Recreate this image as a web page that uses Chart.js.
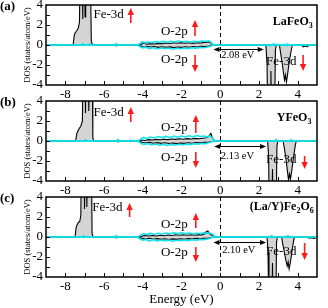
<!DOCTYPE html>
<html>
<head>
<meta charset="utf-8">
<script src="https://cdn.jsdelivr.net/npm/chart.js@4.4.1/dist/chart.umd.min.js"></script>
<style>
  html, body { margin: 0; padding: 0; background: #fff; }
  #wrap { position: relative; width: 328px; height: 308px; overflow: hidden; }
  .panel { position: absolute; left: 0; width: 328px; }
</style>
</head>
<body>
<div id="wrap">
  <div class="panel" style="top:0;height:105px"><canvas id="pa"></canvas></div>
  <div class="panel" style="top:96px;height:105px"><canvas id="pb"></canvas></div>
  <div class="panel" style="top:192px;height:116px"><canvas id="pc"></canvas></div>
</div>
<script>
// axis ticks
const xTicks = [-8, -6, -4, -2, 0, 2, 4];
const yTicks = [-4, -2, 0, 2, 4];

// panel text
const panelNames = ['(a)', '(b)', '(c)'];
const compounds = [
  [['LaFeO', 0], ['3', 1]],
  [['YFeO', 0], ['3', 1]],
  [['(La/Y)Fe', 0], ['2', 1], ['O', 0], ['6', 1]]
];
const gapLabels = ['2.08 eV', '2.13 eV', '2.10 eV'];

// (a) LaFeO3 : [energy eV, DOS]
const totUpA = [[-9,0],[-7.6,0],[-7.53,1.1],[-7.42,1.4],[-7.33,1.7],[-7.27,2.3],[-7.23,9],[-7.13,9],[-7.1,2.6],[-7.07,9],[-7.01,9],[-6.98,2.8],[-6.95,9],[-6.72,9],[-6.66,0.4],[-6.6,0],
  [-5.45,0],[-5.37,0.1],[-5.3,0],
  [-4.25,0],[-4.1,0.06],[-3.95,0.2],[-3.8,0.08],[-3.6,0.14],[-3.4,0.1],[-3.2,0.16],[-3.0,0.12],[-2.8,0.2],[-2.6,0.15],[-2.4,0.22],[-2.2,0.17],[-2.0,0.24],[-1.8,0.18],[-1.6,0.22],[-1.4,0.16],[-1.2,0.22],[-1.0,0.2],[-0.8,0.26],[-0.62,0.3],[-0.5,0.22],[-0.42,0.05],[-0.36,0],
  [5,0]];
const totDnA = [[-9,0],
  [-4.25,0],[-4.1,-0.1],[-3.95,-0.22],[-3.8,-0.12],[-3.6,-0.2],[-3.4,-0.15],[-3.2,-0.24],[-3.0,-0.17],[-2.8,-0.23],[-2.6,-0.19],[-2.4,-0.26],[-2.2,-0.2],[-2.0,-0.24],[-1.8,-0.18],[-1.6,-0.22],[-1.4,-0.15],[-1.2,-0.2],[-1.0,-0.12],[-0.8,-0.16],[-0.6,-0.1],[-0.46,-0.05],[-0.38,0],
  [2.36,0],[2.42,-2],[2.47,-9],[2.58,-9],[2.62,-2.6],[2.66,-9],[2.8,-9],[2.85,-0.5],[2.9,0],
  [3.06,0],[3.12,-0.8],[3.2,-1.8],[3.27,-2.8],[3.32,-3.5],[3.37,-3.0],[3.42,-3.7],[3.47,-3.1],[3.53,-2.2],[3.6,-1.3],[3.67,-0.5],[3.73,0],
  [4.22,0],[4.28,-0.18],[4.4,-0.1],[4.52,-0.16],[4.58,0],[5,0]];
const o2pUpA = [[-9,0],[-7.2,0],[-7.1,0.12],[-7.0,0],[-6.83,0],[-6.75,0.1],[-6.67,0],
  [-5.45,0],[-5.37,0.13],[-5.29,0],
  [-4.3,0],[-4.15,0.12],[-4.02,0.32],[-3.9,0.2],[-3.75,0.3],[-3.55,0.24],[-3.35,0.34],[-3.15,0.26],[-2.95,0.36],[-2.75,0.28],[-2.55,0.38],[-2.35,0.3],[-2.15,0.4],[-1.95,0.32],[-1.75,0.38],[-1.55,0.3],[-1.35,0.36],[-1.15,0.32],[-0.95,0.4],[-0.75,0.38],[-0.6,0.42],[-0.48,0.28],[-0.38,0.08],[-0.3,0],
  [2.65,0],[2.77,0.12],[2.88,0],[3.3,0],[3.45,0.08],[3.6,0],[5,0]];
const o2pDnA = [[-9,0],[-5.45,0],[-5.37,-0.1],[-5.29,0],
  [-4.3,0],[-4.15,-0.15],[-4.02,-0.3],[-3.85,-0.22],[-3.65,-0.36],[-3.45,-0.28],[-3.25,-0.4],[-3.05,-0.3],[-2.85,-0.38],[-2.65,-0.3],[-2.45,-0.42],[-2.25,-0.32],[-2.05,-0.38],[-1.85,-0.3],[-1.65,-0.36],[-1.45,-0.28],[-1.25,-0.32],[-1.05,-0.24],[-0.85,-0.28],[-0.65,-0.2],[-0.5,-0.12],[-0.4,0],
  [2.5,0],[2.6,-0.08],[2.7,0],[3.3,0],[3.42,-0.06],[3.55,0],[5,0]];

// (b) YFeO3
const totUpB = [[-9,0],[-7.47,0],[-7.4,0.8],[-7.3,1.2],[-7.2,1.5],[-7.12,2.0],[-7.07,9],[-6.99,9],[-6.96,2.8],[-6.92,9],[-6.82,9],[-6.79,3],[-6.76,9],[-6.62,9],[-6.58,0.3],[-6.52,0],
  [-5.36,0],[-5.28,0.1],[-5.2,0],[-4.72,0],[-4.64,0.06],[-4.56,0],
  [-4.2,0],[-4.05,0.1],[-3.9,0.05],[-3.7,0.14],[-3.5,0.1],[-3.3,0.16],[-3.1,0.12],[-2.9,0.18],[-2.7,0.14],[-2.5,0.2],[-2.3,0.16],[-2.1,0.22],[-1.9,0.18],[-1.7,0.24],[-1.5,0.2],[-1.3,0.26],[-1.1,0.22],[-0.9,0.28],[-0.75,0.3],[-0.6,0.45],[-0.48,0.75],[-0.4,0.3],[-0.32,0.1],[-0.26,0],
  [5,0]];
const totDnB = [[-9,0],
  [-4.2,0],[-4.05,-0.12],[-3.85,-0.2],[-3.65,-0.14],[-3.45,-0.22],[-3.25,-0.16],[-3.05,-0.24],[-2.85,-0.18],[-2.65,-0.25],[-2.45,-0.2],[-2.25,-0.26],[-2.05,-0.2],[-1.85,-0.24],[-1.65,-0.17],[-1.45,-0.22],[-1.25,-0.15],[-1.05,-0.18],[-0.85,-0.12],[-0.65,-0.14],[-0.5,-0.08],[-0.36,0],
  [2.45,0],[2.5,-1.5],[2.55,-9],[2.66,-9],[2.7,-2.8],[2.74,-9],[2.88,-9],[2.93,-0.5],[2.98,0],
  [3.25,0],[3.32,-0.8],[3.4,-1.8],[3.47,-3.0],[3.53,-3.9],[3.58,-3.3],[3.63,-3.8],[3.68,-3.2],[3.74,-2.3],[3.82,-1.2],[3.88,-0.4],[3.93,0],
  [5,0]];
const o2pUpB = [[-9,0],[-7.06,0],[-6.96,0.12],[-6.86,0],[-5.36,0],[-5.28,0.13],[-5.2,0],[-4.72,0],[-4.64,0.08],[-4.56,0],
  [-4.25,0],[-4.1,0.2],[-3.95,0.36],[-3.8,0.26],[-3.6,0.4],[-3.4,0.3],[-3.2,0.44],[-3.0,0.34],[-2.8,0.46],[-2.6,0.36],[-2.4,0.48],[-2.2,0.38],[-2.0,0.5],[-1.8,0.4],[-1.6,0.52],[-1.4,0.42],[-1.2,0.55],[-1.0,0.44],[-0.85,0.5],[-0.7,0.42],[-0.55,0.5],[-0.45,0.4],[-0.35,0.12],[-0.28,0],
  [2.8,0],[2.9,0.12],[3.0,0],[3.57,0],[3.67,0.12],[3.77,0],[5,0]];
const o2pDnB = [[-9,0],[-5.36,0],[-5.28,-0.1],[-5.2,0],
  [-4.25,0],[-4.1,-0.22],[-3.95,-0.35],[-3.75,-0.26],[-3.55,-0.4],[-3.35,-0.3],[-3.15,-0.42],[-2.95,-0.32],[-2.75,-0.44],[-2.55,-0.34],[-2.35,-0.42],[-2.15,-0.32],[-1.95,-0.4],[-1.75,-0.3],[-1.55,-0.36],[-1.35,-0.28],[-1.15,-0.32],[-0.95,-0.24],[-0.75,-0.26],[-0.6,-0.18],[-0.45,-0.1],[-0.36,0],
  [5,0]];

// (c) (La/Y)Fe2O6
const totUpC = [[-9,0],[-7.5,0],[-7.44,1.0],[-7.35,1.4],[-7.25,1.6],[-7.2,2.2],[-7.17,9],[-7.04,9],[-7.01,2.8],[-6.98,9],[-6.92,9],[-6.89,3],[-6.86,9],[-6.66,9],[-6.62,0.3],[-6.56,0],
  [-5.45,0],[-5.37,0.1],[-5.3,0],
  [-4.2,0],[-4.05,0.08],[-3.9,0.16],[-3.7,0.1],[-3.5,0.15],[-3.3,0.1],[-3.1,0.17],[-2.9,0.13],[-2.7,0.2],[-2.5,0.15],[-2.3,0.22],[-2.1,0.17],[-1.9,0.22],[-1.7,0.17],[-1.5,0.22],[-1.3,0.18],[-1.1,0.24],[-0.95,0.2],[-0.82,0.3],[-0.72,0.52],[-0.64,0.6],[-0.56,0.35],[-0.45,0.2],[-0.32,0.08],[-0.22,0],
  [5,0]];
const totDnC = [[-9,0],
  [-4.2,0],[-4.05,-0.14],[-3.85,-0.2],[-3.65,-0.12],[-3.45,-0.22],[-3.25,-0.16],[-3.05,-0.24],[-2.85,-0.18],[-2.65,-0.25],[-2.45,-0.19],[-2.25,-0.24],[-2.05,-0.18],[-1.85,-0.23],[-1.65,-0.16],[-1.45,-0.2],[-1.25,-0.14],[-1.05,-0.17],[-0.85,-0.12],[-0.65,-0.12],[-0.5,-0.07],[-0.36,0],
  [2.42,0],[2.47,-1.5],[2.52,-9],[2.66,-9],[2.7,-2.6],[2.74,-9],[2.86,-9],[2.91,-0.5],[2.96,0],
  [3.17,0],[3.23,-0.7],[3.31,-1.5],[3.39,-2.3],[3.46,-2.9],[3.51,-2.5],[3.56,-3.2],[3.62,-2.6],[3.68,-1.8],[3.75,-0.9],[3.81,-0.2],[3.85,0],
  [4.48,0],[4.55,-0.1],[4.7,-0.06],[4.85,-0.14],[4.97,-0.05],[5,0]];
const o2pUpC = [[-9,0],[-7.15,0],[-7.05,0.12],[-6.95,0],[-5.45,0],[-5.37,0.12],[-5.29,0],
  [-4.25,0],[-4.1,0.2],[-3.95,0.34],[-3.8,0.24],[-3.6,0.36],[-3.4,0.28],[-3.2,0.38],[-3.0,0.3],[-2.8,0.4],[-2.6,0.32],[-2.4,0.42],[-2.2,0.34],[-2.0,0.42],[-1.8,0.34],[-1.6,0.4],[-1.4,0.32],[-1.2,0.38],[-1.0,0.34],[-0.85,0.42],[-0.7,0.36],[-0.55,0.4],[-0.42,0.3],[-0.3,0.1],[-0.22,0],
  [2.55,0],[2.65,0.12],[2.75,0],[3.4,0],[3.5,0.12],[3.6,0],[5,0]];
const o2pDnC = [[-9,0],[-5.45,0],[-5.37,-0.1],[-5.29,0],
  [-4.3,0],[-4.15,-0.18],[-4.0,-0.32],[-3.85,-0.24],[-3.65,-0.38],[-3.45,-0.28],[-3.25,-0.4],[-3.05,-0.3],[-2.85,-0.4],[-2.65,-0.3],[-2.45,-0.42],[-2.25,-0.32],[-2.05,-0.38],[-1.85,-0.3],[-1.65,-0.36],[-1.45,-0.28],[-1.25,-0.32],[-1.05,-0.24],[-0.85,-0.28],[-0.65,-0.2],[-0.5,-0.12],[-0.38,0],
  [5,0]];

const panels = [
  { up: totUpA, dn: totDnA, oUp: o2pUpA, oDn: o2pDnA },
  { up: totUpB, dn: totDnB, oUp: o2pUpB, oDn: o2pDnB },
  { up: totUpC, dn: totDnC, oUp: o2pUpC, oDn: o2pDnC }
];

// annotation placement in data units (energy, DOS)
const notes = [
  { feUp: [-6.55, 3.0], feUpArrow: [-4.62, 2.2, 3.7], o2pUp: [-3.06, 1.3], o2pUpArrow: [-1.3, 0.9, 2.5],
    o2pDn: [-3.06, -1.5], o2pDnArrow: [-1.3, -1.0, -2.7], feDn: [2.37, -1.7], feDnArrow: [4.28, -1.0, -2.6],
    name: [4.78, 2.3], gap: [-0.35, 2.25, -0.4], gapText: [0.05, -1.0] },
  { feUp: [-6.55, 2.8], feUpArrow: [-4.62, 1.9, 3.4], o2pUp: [-3.06, 1.3], o2pUpArrow: [-1.26, 0.8, 2.6],
    o2pDn: [-3.06, -1.7], o2pDnArrow: [-1.26, -1.1, -2.7], feDn: [2.37, -1.9], feDnArrow: [4.36, -1.5, -2.8],
    name: [4.71, 2.3], gap: [-0.31, 2.37, -0.47], gapText: [0.03, -1.5] },
  { feUp: [-6.61, 2.9], feUpArrow: [-4.68, 2.0, 3.4], o2pUp: [-3.06, 1.2], o2pUpArrow: [-1.26, 0.9, 2.4],
    o2pDn: [-3.06, -1.6], o2pDnArrow: [-1.26, -1.0, -2.5], feDn: [2.37, -1.5], feDnArrow: [4.36, -0.6, -2.3],
    name: [4.83, 3.0], gap: [-0.35, 2.37, -0.53], gapText: [0.1, -1.3] }
];

const FONT = "'Liberation Serif', 'Times New Roman', serif";
const CYAN = '#12e2ec';
const RED = '#ff1a1a';

function vArrow(ctx, x, y1, y2) {
  const d = Math.sign(y2 - y1);
  ctx.strokeStyle = RED; ctx.fillStyle = RED; ctx.lineWidth = 1.6;
  ctx.beginPath(); ctx.moveTo(x, y1); ctx.lineTo(x, y2 - d * 5); ctx.stroke();
  ctx.beginPath(); ctx.moveTo(x, y2); ctx.lineTo(x - 3.2, y2 - d * 7); ctx.lineTo(x + 3.2, y2 - d * 7); ctx.closePath(); ctx.fill();
}

function hArrow(ctx, x1, x2, y) {
  ctx.strokeStyle = '#000'; ctx.fillStyle = '#000'; ctx.lineWidth = 1;
  ctx.beginPath(); ctx.moveTo(x1 + 4, y); ctx.lineTo(x2 - 4, y); ctx.stroke();
  ctx.beginPath(); ctx.moveTo(x1, y); ctx.lineTo(x1 + 6, y - 2.5); ctx.lineTo(x1 + 6, y + 2.5); ctx.closePath(); ctx.fill();
  ctx.beginPath(); ctx.moveTo(x2, y); ctx.lineTo(x2 - 6, y - 2.5); ctx.lineTo(x2 - 6, y + 2.5); ctx.closePath(); ctx.fill();
}

const decor = {
  id: 'decor',
  beforeDatasetsDraw(chart) {
    const { ctx, chartArea: a, scales: { x } } = chart;
    const x0 = Math.round(x.getPixelForValue(0)) + 0.5;
    ctx.save();
    ctx.setLineDash([4, 3]); ctx.strokeStyle = '#000'; ctx.lineWidth = 1;
    ctx.beginPath(); ctx.moveTo(x0, a.top); ctx.lineTo(x0, a.bottom); ctx.stroke();
    ctx.restore();
  },
  afterDatasetsDraw(chart, args, opts) {
    const { ctx, chartArea: a, scales: { x, y } } = chart;
    const n = notes[opts.panel];
    const px = v => x.getPixelForValue(v), py = v => y.getPixelForValue(v);
    ctx.save();
    // inward ticks
    ctx.strokeStyle = '#000'; ctx.lineWidth = 1;
    for (let e = -8; e <= 4; e++) {
      const p = Math.round(px(e)) + 0.5;
      ctx.beginPath(); ctx.moveTo(p, a.bottom); ctx.lineTo(p, a.bottom - 4); ctx.stroke();
    }
    for (let d = -3; d <= 3; d++) {
      const p = Math.round(py(d)) + 0.5;
      ctx.beginPath(); ctx.moveTo(a.left, p); ctx.lineTo(a.left + 4, p); ctx.stroke();
    }
    // frame
    ctx.lineWidth = 1.5;
    ctx.strokeRect(a.left, a.top, a.right - a.left, a.bottom - a.top);

    // labels
    ctx.fillStyle = '#000'; ctx.textBaseline = 'middle'; ctx.textAlign = 'left';
    ctx.font = '13px ' + FONT;
    ctx.fillText('Fe-3d', px(n.feUp[0]), py(n.feUp[1]));
    ctx.fillText('O-2p', px(n.o2pUp[0]), py(n.o2pUp[1]));
    ctx.fillText('O-2p', px(n.o2pDn[0]), py(n.o2pDn[1]));
    ctx.fillText('Fe-3d', px(n.feDn[0]), py(n.feDn[1]));
    ctx.font = '10.5px ' + FONT;
    ctx.fillText(gapLabels[opts.panel], px(n.gapText[0]), py(n.gapText[1]));

    [n.feUpArrow, n.o2pUpArrow, n.o2pDnArrow, n.feDnArrow].forEach(r => vArrow(ctx, px(r[0]), py(r[1]), py(r[2])));
    hArrow(ctx, px(n.gap[0]), px(n.gap[1]), Math.round(py(n.gap[2])) + 0.5);

    // compound name with subscripts, right aligned
    const parts = compounds[opts.panel];
    const fonts = ['bold 12px ' + FONT, 'bold 8px ' + FONT];
    let w = 0;
    parts.forEach(([t, s]) => { ctx.font = fonts[s]; w += ctx.measureText(t).width; });
    let cx = px(n.name[0]) - w;
    const cy = py(n.name[1]);
    ctx.fillStyle = '#000';
    parts.forEach(([t, s]) => {
      ctx.font = fonts[s];
      ctx.fillText(t, cx, cy + (s ? 3.5 : 0));
      cx += ctx.measureText(t).width;
    });

    // panel letter
    ctx.font = 'bold 13px ' + FONT;
    ctx.fillText(panelNames[opts.panel], 0, a.top + 2);
    ctx.restore();
  }
};

function series(pts, color, fill, width) {
  return {
    data: pts.map(([e, d]) => ({ x: e, y: d })),
    borderColor: color, borderWidth: width,
    backgroundColor: '#d4d4d4',
    fill: fill ? 'origin' : false,
    pointRadius: 0, tension: 0, clip: 0
  };
}

['pa', 'pb', 'pc'].forEach((id, i) => {
  const p = panels[i];
  const last = i === 2;
  new Chart(document.getElementById(id), {
    type: 'line',
    data: {
      datasets: [
        series(p.oUp, CYAN, false, 1.6),
        series(p.oDn, CYAN, false, 1.6),
        series(p.up, '#000', true, 1.1),
        series(p.dn, '#000', true, 1.1)
      ]
    },
    options: {
      responsive: true, maintainAspectRatio: false, animation: false,
      layout: { padding: { top: 5, right: 11, left: 0, bottom: 0 } },
      plugins: { legend: { display: false }, tooltip: { enabled: false }, decor: { panel: i } },
      scales: {
        x: {
          type: 'linear', min: -9, max: 5,
          grid: { display: false, drawTicks: false }, border: { display: false },
          afterBuildTicks: s => { s.ticks = xTicks.map(v => ({ value: v })); },
          afterFit: s => { s.height = last ? 31 : 20; s.paddingLeft = 0; s.paddingRight = 0; },
          ticks: { color: '#000', font: { family: FONT, size: 13 }, padding: 2, maxRotation: 0, autoSkip: false },
          title: { display: last, text: 'Energy (eV)', color: '#000', font: { family: FONT, size: 13 }, padding: { top: 0, bottom: 1 } }
        },
        y: {
          type: 'linear', min: -4, max: 4,
          grid: { display: false, drawTicks: false }, border: { display: false },
          afterBuildTicks: s => { s.ticks = yTicks.map(v => ({ value: v })); },
          afterFit: s => { s.width = 46; s.paddingTop = 0; s.paddingBottom = 0; },
          ticks: { color: '#000', font: { family: FONT, size: 13 }, padding: 3 },
          title: { display: true, text: 'DOS (states/atom/eV)', color: '#000', font: { family: FONT, size: 8.5 }, padding: { top: 23, bottom: 0 } }
        }
      }
    },
    plugins: [decor]
  });
});
</script>
</body>
</html>
